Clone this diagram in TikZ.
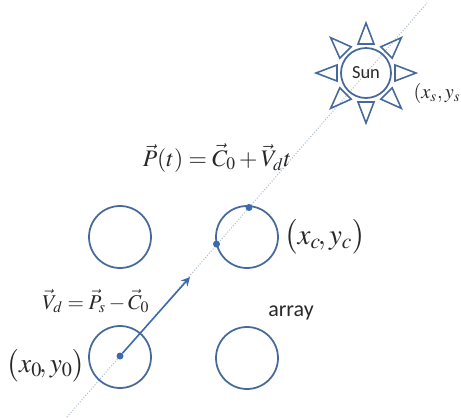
\documentclass[tikz,border=0pt]{standalone}
\usepackage{amsmath}
\usepackage{mathptmx}
\usepackage[no-math]{fontspec}
\setsansfont{Carlito}
\definecolor{ringBlue}{RGB}{70, 105, 155}
\definecolor{dotBlue}{RGB}{60, 105, 175}
\definecolor{rayGray}{RGB}{175, 190, 210}
\definecolor{mathGray}{RGB}{40, 40, 40}
\usetikzlibrary{arrows.meta, positioning, calc}
\tikzset{
    ring/.style={circle, draw=ringBlue, line width=1pt, minimum size=1.24cm, inner sep=0pt},
    hitDot/.style={circle, fill=dotBlue, minimum size=0.14cm, inner sep=0pt},
    ray/.style={draw=rayGray, densely dotted, line width=0.6pt},
    arrow/.style={-{Stealth[length=5pt, width=5pt]}, draw=dotBlue, line width=0.9pt},
    spike/.style={draw=ringBlue, line width=0.9pt, line join=miter},
    mathText/.style={text=mathGray, inner sep=0pt},
    plainText/.style={text=mathGray, font=\sffamily\fontsize{12.5}{14}\selectfont, inner sep=0pt}
}

\begin{document}
\begin{tikzpicture}[x=0.02cm, y=-0.02cm]
    \useasboundingbox (0,0) rectangle (461,417);

    % --- RAY ---
    \coordinate (rayStart) at (67,417);
    \coordinate (rayEnd) at (427,3);
    \draw[ray] (rayStart) -- (rayEnd);

    % --- ARRAY ---
    \node[ring] (dish0) at (120,357) {};
    \node[ring] (dish1) at (247,358) {};
    \node[ring] (dish2) at (120,237) {};
    \node[ring] (dishC) at (247,237) {};

    \node[hitDot] (origin) at (120,356) {};
    \node[hitDot] (hitTop) at (249,207.5) {};
    \node[hitDot] (hitLeft) at (216.5,244) {};

    % --- SUN ---
    \node[ring, minimum size=1cm, font=\sffamily\fontsize{10.5}{12}\selectfont, text=mathGray] (sun) at (366,73) {Sun};
    \foreach \ang in {0,45,...,315}{
        \draw[spike, rotate around={\ang:(sun)}] ($(sun)+(29,-8)$) -- ($(sun)+(50,0)$) -- ($(sun)+(29,8)$) -- cycle;
    }

    % --- DIRECTION ---
    \coordinate (tip) at (190,277);
    \draw[arrow] (origin) -- (tip);

    % --- LABELS ---
    \node[mathText, font=\fontsize{11.5}{13}\selectfont] (sunPos) at (441,93) {$\left(x_{s},y_{s}\right)$};
    \node[mathText, font=\fontsize{13.5}{15}\selectfont] (lineEq) at (217,158) {$\vec{P}(t)=\vec{C}_{0}+\vec{V}_{d}t$};
    \node[mathText, font=\fontsize{16.5}{18}\selectfont] (dishPos) at (325,237) {$\bigl(x_{c}\!,y_{c}\bigr)$};
    \node[mathText, font=\fontsize{12}{14}\selectfont] (dirEq) at (96,301) {$\vec{V}_{d}=\vec{P}_{s}-\vec{C}_{0}$};
    \node[mathText, font=\fontsize{15.5}{18}\selectfont] (originPos) at (46,366) {$\bigl(x_{0}\!,y_{0}\bigr)$};
    \node[plainText] (arrayLbl) at (291,313) {array};
\end{tikzpicture}
\end{document}
